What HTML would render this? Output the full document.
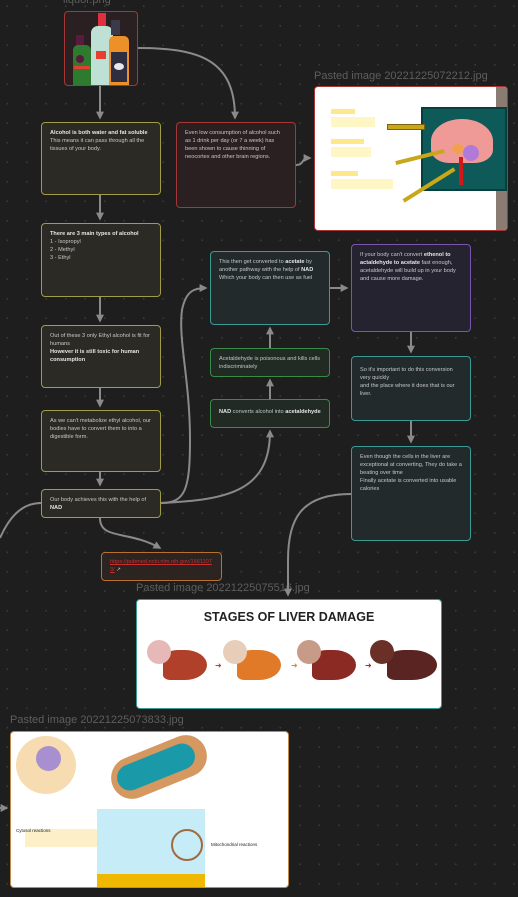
<!DOCTYPE html>
<html><head><meta charset="utf-8"><style>
body{margin:0;width:518px;height:897px;overflow:hidden;background:#1e1e1e;position:relative;font-family:"Liberation Sans",sans-serif;
background-image:radial-gradient(circle,#3a3a3a 0.8px,transparent 1.1px);background-size:19.5px 19.5px;background-position:-2.5px -3.5px;}
.n{position:absolute;box-sizing:border-box;border:1.5px solid;border-radius:4px;font-size:5.6px;line-height:8px;color:#c8c8c8;padding:6px 8px;}
.y{border-color:#a09c48;background:#2b2a24}
.r{border-color:#a83636;background:#2a1f21}
.t{border-color:#3a9a96;background:#222a2c}
.g{border-color:#3a8a4a;background:#212a23}
.p{border-color:#7a55b0;background:#262330}
.o{border-color:#b8702c;background:#2b2420}
b{color:#e6e6e6}
.lbl{position:absolute;font-size:11px;color:#5e5e5e;white-space:nowrap}
svg{position:absolute;left:0;top:0}
.a{position:absolute}
</style></head><body>
<div class="lbl" style="left:63px;top:-6px">liquor.png</div>
<div class="lbl" style="left:314px;top:70px">Pasted image 20221225072212.jpg</div>
<div class="lbl" style="left:136px;top:582px">Pasted image 20221225075516.jpg</div>
<div class="lbl" style="left:10px;top:714px">Pasted image 20221225073833.jpg</div>

<div class="n r" style="left:64px;top:11px;width:74px;height:75px;padding:0;overflow:hidden">
<div class="a" style="left:11px;top:23px;width:8px;height:12px;background:#5a1a3a"></div>
<div class="a" style="left:8px;top:33px;width:18px;height:40px;background:#2e7a2e;border-radius:5px 5px 0 0"></div>
<div class="a" style="left:11px;top:43px;width:8px;height:8px;background:#5a1a3a;border-radius:50%"></div>
<div class="a" style="left:9px;top:54px;width:16px;height:3px;background:#e04030"></div>
<div class="a" style="left:33px;top:1px;width:8px;height:14px;background:#e03040"></div>
<div class="a" style="left:26px;top:14px;width:22px;height:60px;background:#bfe0d4;border-radius:7px 7px 0 0"></div>
<div class="a" style="left:31px;top:39px;width:10px;height:8px;background:#e84030"></div>
<div class="a" style="left:46px;top:8px;width:9px;height:15px;background:#3a3a4a"></div>
<div class="a" style="left:44px;top:24px;width:20px;height:50px;background:#ee9028;border-radius:5px 5px 0 0"></div>
<div class="a" style="left:46px;top:40px;width:16px;height:30px;background:#2e2e40"></div>
<div class="a" style="left:49px;top:51px;width:10px;height:7px;background:#e8e8e8;border-radius:50%"></div>
</div>
<div class="n y" style="left:41px;top:122px;width:120px;height:73px"><b>Alcohol is both water and fat soluble</b><br>This means it can pass through all the tissues of your body.</div>
<div class="n r" style="left:176px;top:122px;width:120px;height:86px">Even low consumption of alcohol such as 1 drink per day (or 7 a week) has been shown to cause thinning of neocortex and other brain regions.</div>
<div class="n y" style="left:41px;top:223px;width:120px;height:74px"><b>There are 3 main types of alcohol</b><br>1 - Isopropyl<br>2 - Methyl<br>3 - Ethyl</div>
<div class="n y" style="left:41px;top:325px;width:120px;height:63px">Out of these 3 only Ethyl alcohol is fit for humans<br><b>However it is still toxic for human consumption</b></div>
<div class="n y" style="left:41px;top:410px;width:120px;height:62px">As we can't metabolize ethyl alcohol, our bodies have to convert them to into a digestible form.</div>
<div class="n y" style="left:41px;top:489px;width:120px;height:29px">Our body achieves this with the help of<br><b>NAD</b></div>
<div class="n o" style="left:101px;top:552px;width:121px;height:29px;padding:5px 8px"><span style="color:#c83030;text-decoration:underline">https://pubmed.ncbi.nlm.nih.gov/1661107<br>3/</span> ↗</div>
<div class="n t" style="left:210px;top:251px;width:120px;height:74px">This then get converted to <b>acetate</b> by another pathway with the help of <b>NAD</b><br>Which your body can then use as fuel</div>
<div class="n g" style="left:210px;top:348px;width:120px;height:29px">Acetaldehyde is poisonous and kills cells indiscriminately</div>
<div class="n g" style="left:210px;top:399px;width:120px;height:29px;padding-top:8px"><b>NAD</b> converts alcohol into <b>acetaldehyde</b></div>
<div class="n p" style="left:351px;top:244px;width:120px;height:88px">If your body can't convert <b>ethenol to actaldehyde to acetate</b> fast enough, acetaldehyde will build up in your body and cause more damage.</div>
<div class="n t" style="left:351px;top:356px;width:120px;height:65px;padding-top:9px">So it's important to do this conversion very quickly<br>and the place where it does that is our liver.</div>
<div class="n t" style="left:351px;top:446px;width:120px;height:95px">Even though the cells in the liver are exceptional at converting, They do take a beating over time<br>Finally acetate is converted into usable calories</div>

<!-- brain image -->
<div class="n r" style="left:314px;top:86px;width:194px;height:145px;background:#fff;padding:0;overflow:hidden">
<div class="a" style="right:0;top:0;width:11px;height:100%;background:#8a7c72"></div>
<div class="a" style="left:16px;top:22px;width:24px;height:5px;background:#fde98a"></div>
<div class="a" style="left:16px;top:30px;width:44px;height:10px;background:#fef6c4"></div>
<div class="a" style="left:16px;top:52px;width:33px;height:5px;background:#fde98a"></div>
<div class="a" style="left:16px;top:60px;width:40px;height:10px;background:#fef6c4"></div>
<div class="a" style="left:16px;top:84px;width:27px;height:5px;background:#fde98a"></div>
<div class="a" style="left:16px;top:92px;width:62px;height:10px;background:#fef6c4"></div>
<div class="a" style="left:106px;top:20px;width:82px;height:80px;background:#0e5a58;border:2px solid #06403e"></div>
<div class="a" style="left:116px;top:32px;width:62px;height:44px;background:#f09a98;border-radius:50% 50% 30% 30%"></div>
<div class="a" style="left:148px;top:58px;width:16px;height:16px;background:#b07ad8;border-radius:50%"></div>
<div class="a" style="left:137px;top:57px;width:12px;height:10px;background:#f0a050;border-radius:50%"></div>
<div class="a" style="left:144px;top:70px;width:4px;height:28px;background:#d01818"></div>
<div class="a" style="left:72px;top:37px;width:36px;height:4px;background:#c8a818;border:1px solid #806010"></div>
<div class="a" style="left:80px;top:68px;width:50px;height:4px;background:#c8a818;transform:rotate(-14deg)"></div>
<div class="a" style="left:84px;top:96px;width:60px;height:4px;background:#c8a818;transform:rotate(-32deg)"></div>
</div>

<!-- liver image -->
<div class="n t" style="left:136px;top:599px;width:306px;height:110px;background:#fff;padding:0;overflow:hidden">
<div class="a" style="left:0;width:100%;top:10px;text-align:center;font-size:12.5px;font-weight:bold;color:#222;line-height:14px">STAGES OF LIVER DAMAGE</div>
<div class="a" style="left:26px;top:50px;width:44px;height:30px;background:#b0402a;border-radius:40% 60% 60% 20%"></div>
<div class="a" style="left:10px;top:40px;width:24px;height:24px;background:#e6b8b8;border-radius:50%"></div>
<div class="a" style="left:100px;top:50px;width:44px;height:30px;background:#e07a28;border-radius:40% 60% 60% 20%"></div>
<div class="a" style="left:86px;top:40px;width:24px;height:24px;background:#e8cdb8;border-radius:50%"></div>
<div class="a" style="left:175px;top:50px;width:44px;height:30px;background:#8a2a22;border-radius:40% 60% 60% 20%"></div>
<div class="a" style="left:160px;top:40px;width:24px;height:24px;background:#c89a88;border-radius:50%"></div>
<div class="a" style="left:250px;top:50px;width:50px;height:30px;background:#5a2422;border-radius:40% 60% 60% 20%"></div>
<div class="a" style="left:233px;top:40px;width:24px;height:24px;background:#6a3028;border-radius:50%"></div>
<div class="a" style="left:78px;top:62px;font-size:8px;color:#c04030">➜</div>
<div class="a" style="left:154px;top:62px;font-size:8px;color:#e88030">➜</div>
<div class="a" style="left:228px;top:62px;font-size:8px;color:#a03028">➜</div>
</div>

<!-- cell image -->
<div class="n o" style="left:10px;top:731px;width:279px;height:157px;background:#fff;padding:0;overflow:hidden;border-color:#c08a48">
<div class="a" style="left:5px;top:4px;width:60px;height:58px;background:#f6dcb0;border-radius:50%"></div>
<div class="a" style="left:25px;top:14px;width:25px;height:25px;background:#a890d0;border-radius:50%"></div>
<div class="a" style="left:98px;top:14px;width:100px;height:42px;background:#d49860;border-radius:22px;transform:rotate(-22deg)"></div>
<div class="a" style="left:104px;top:22px;width:82px;height:26px;background:#1a9aa8;border-radius:14px;transform:rotate(-22deg)"></div>
<div class="a" style="left:86px;top:77px;width:108px;height:80px;background:#c6ecf8"></div>
<div class="a" style="left:86px;top:142px;width:108px;height:15px;background:#f0b800"></div>
<div class="a" style="left:14px;top:97px;width:72px;height:18px;background:#fdf0c8"></div>
<div class="a" style="left:5px;top:95px;font-size:4.5px;color:#222">Cytosol reactions</div>
<div class="a" style="left:200px;top:109px;font-size:4.5px;color:#222">Mitochondrial reactions</div>
<div class="a" style="left:160px;top:97px;width:28px;height:28px;border:2px solid #a06a40;border-radius:50%"></div>
</div>

<svg width="518" height="897" fill="none" stroke="#8a8a8a" stroke-width="2">
<defs><marker id="a" viewBox="0 0 10 10" refX="8" refY="5" markerWidth="4" markerHeight="4" orient="auto"><path d="M0,0L10,5L0,10z" fill="#8a8a8a" stroke="none"/></marker></defs>
<path d="M100,86V118" marker-end="url(#a)"/>
<path d="M138,48C200,48 235,60 235,118" marker-end="url(#a)"/>
<path d="M100,195V219" marker-end="url(#a)"/>
<path d="M100,297V321" marker-end="url(#a)"/>
<path d="M100,388V406" marker-end="url(#a)"/>
<path d="M100,472V485" marker-end="url(#a)"/>
<path d="M296,165C305,165 300,158 310,158" marker-end="url(#a)"/>
<path d="M161,503C185,503 190,490 190,440C190,380 178,340 182,310C186,290 195,288 206,288" marker-end="url(#a)"/>
<path d="M161,503C230,500 270,490 270,431" marker-end="url(#a)"/>
<path d="M270,399V380" marker-end="url(#a)"/>
<path d="M270,348V328" marker-end="url(#a)"/>
<path d="M330,288H347" marker-end="url(#a)"/>
<path d="M411,332V352" marker-end="url(#a)"/>
<path d="M411,421V442" marker-end="url(#a)"/>
<path d="M351,494C300,494 288,520 288,560V595" marker-end="url(#a)"/>
<path d="M100,518C100,540 128,530 160,548" marker-end="url(#a)"/>
<path d="M41,503C20,503 8,520 0,538"/>
<path d="M0,808H7" marker-end="url(#a)"/>
</svg>
</body></html>
